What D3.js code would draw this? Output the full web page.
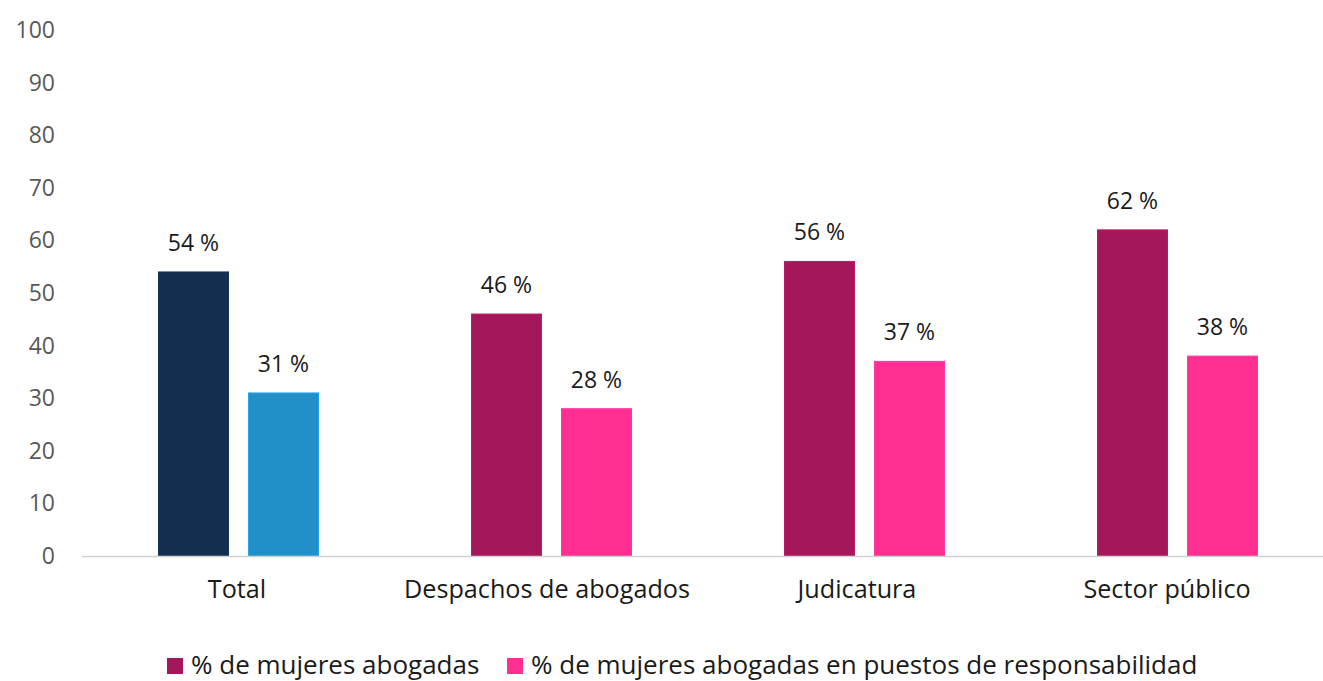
<!DOCTYPE html>
<html>
<head>
<meta charset="utf-8">
<script src="https://cdn.jsdelivr.net/npm/d3@7"></script>
<style>
  body { margin: 0; background: #fff; }
  text { font-family: "Open Sans", "Noto Sans", sans-serif; }
</style>
</head>
<body>
<div id="chart"></div>
<script>
"use strict";

// data
var categories = ["Total", "Despachos de abogados", "Judicatura", "Sector público"];
var series = ["% de mujeres abogadas", "% de mujeres abogadas en puestos de responsabilidad"];
var abogadas = [54, 46, 56, 62];
var responsabilidad = [31, 28, 37, 38];
var yTicks = [0, 10, 20, 30, 40, 50, 60, 70, 80, 90, 100];

// colours: Total has its own blue pair
var totalColors = ["#132f50", "#2190c9"];
var sectorColors = ["#a4175b", "#ff2f92"];

var width = 1323, height = 681;

var svg = d3.select("#chart").append("svg")
  .attr("width", width)
  .attr("height", height);

var x0 = d3.scaleBand()
  .domain(categories)
  .range([82, 1334])
  .padding(0);

// labels sit on the visible axis span
var xLabel = d3.scaleBand()
  .domain(categories)
  .range([82, 1322])
  .padding(0);

var x1 = d3.scaleBand()
  .domain(series)
  .range([0, x0.bandwidth()])
  .paddingInner(0.2222)
  .paddingOuter(0.85);

var y = d3.scaleLinear()
  .domain([0, 100])
  .range([556, 30]);

// y tick labels
svg.append("g")
  .selectAll("text")
  .data(yTicks)
  .enter()
  .append("text")
    .attr("x", 55)
    .attr("y", function(d) { return y(d); })
    .attr("dy", "0.35em")
    .attr("text-anchor", "end")
    .attr("font-size", 23)
    .attr("fill", "#595959")
    .text(function(d) { return d; });

// bars
var rows = categories.map(function(c, i) {
  return { cat: c, values: [abogadas[i], responsabilidad[i]] };
});

var groups = svg.append("g")
  .selectAll("g")
  .data(rows)
  .enter()
  .append("g")
    .attr("transform", function(d) { return "translate(" + x0(d.cat) + ",0)"; });

groups.selectAll("rect")
  .data(function(d, i) {
    return d.values.map(function(v, j) {
      return { s: series[j], v: v, color: (i === 0 ? totalColors : sectorColors)[j] };
    });
  })
  .enter()
  .append("rect")
    .attr("x", function(d) { return x1(d.s); })
    .attr("y", function(d) { return y(d.v); })
    .attr("width", x1.bandwidth())
    .attr("height", function(d) { return y(0) - y(d.v); })
    .attr("fill", function(d) { return d.color; })
    .attr("stroke", function(d) { return d3.color(d.color).brighter(0.4); })
    .attr("stroke-width", 1);

groups.selectAll("text.val")
  .data(function(d) {
    return d.values.map(function(v, j) { return { s: series[j], v: v }; });
  })
  .enter()
  .append("text")
    .attr("class", "val")
    .attr("x", function(d) { return x1(d.s) + x1.bandwidth() / 2; })
    .attr("y", function(d) { return y(d.v) - 21; })
    .attr("text-anchor", "middle")
    .attr("font-size", 23)
    .attr("fill", "#1a1a1a")
    .text(function(d) { return d.v + " %"; });

// x axis line
svg.append("line")
  .attr("x1", 82)
  .attr("x2", width)
  .attr("y1", y(0) + 0.5)
  .attr("y2", y(0) + 0.5)
  .attr("stroke", "#d0d0d0")
  .attr("stroke-width", 1.5);

// category labels
svg.append("g")
  .selectAll("text")
  .data(categories)
  .enter()
  .append("text")
    .attr("x", function(d) { return xLabel(d) + xLabel.bandwidth() / 2; })
    .attr("y", 598)
    .attr("text-anchor", "middle")
    .attr("font-size", 25.2)
    .attr("fill", "#1a1a1a")
    .text(function(d) { return d; });

// legend
var legendX = [167, 507];
var legend = svg.append("g")
  .selectAll("g")
  .data(series)
  .enter()
  .append("g")
    .attr("transform", function(d, i) { return "translate(" + legendX[i] + ",658)"; });

legend.append("rect")
  .attr("width", 16)
  .attr("height", 16)
  .attr("fill", function(d, i) { return sectorColors[i]; });

legend.append("text")
  .attr("x", 24)
  .attr("y", 16)
  .attr("font-size", 26)
  .attr("fill", "#1a1a1a")
  .text(function(d) { return d; });
</script>
</body>
</html>
